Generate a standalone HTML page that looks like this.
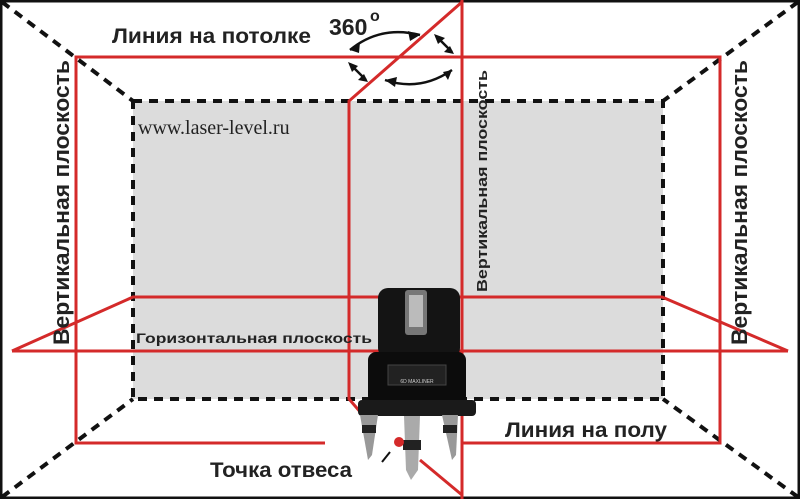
<!DOCTYPE html>
<html><head><meta charset="utf-8"><style>html,body{margin:0;padding:0;background:#fff}svg{display:block}</style></head><body>
<svg width="800" height="499" viewBox="0 0 800 499" xmlns="http://www.w3.org/2000/svg" font-family="Liberation Sans, sans-serif">
<rect x="133" y="101" width="530" height="298" fill="#dcdcdc"/>
<g stroke="#111" stroke-width="4" fill="none" stroke-dasharray="9,7">
<rect x="133" y="101" width="530" height="298"/>
<line x1="2" y1="2" x2="133" y2="101"/>
<line x1="798" y1="2" x2="663" y2="101"/>
<line x1="2" y1="497" x2="133" y2="399"/>
<line x1="798" y1="497" x2="663" y2="399"/>
</g>
<rect x="1" y="1" width="798" height="497" fill="none" stroke="#111" stroke-width="3"/>
<g stroke="#d42a2a" stroke-width="3" fill="none">
<polyline points="325,443 76,443 76,57 720,57 720,443 462,443"/>
<line x1="12" y1="351" x2="788" y2="351"/>
<polyline points="12,351 133,297 662,297 788,351"/>
<line x1="462" y1="0" x2="462" y2="499"/>
<polyline points="462,2 349,101 349,399 362,414"/>
<line x1="420" y1="460" x2="462" y2="495"/>
</g>
<g stroke="#111" stroke-width="2.5" fill="none">
<path d="M350,50 Q380,25 420,35"/>
<path d="M385,80 Q420,92 452,70"/>
<line x1="436" y1="36" x2="452" y2="52"/>
<line x1="350" y1="64" x2="366" y2="80"/>
</g>
<g fill="#111">
<polygon points="350,50 360,42 359,53"/><polygon points="420,35 408,31 410,41"/>
<polygon points="385,80 397,77 395,87"/><polygon points="452,70 443,72 448,80"/>
<polygon points="434,34 438,44 445,38"/><polygon points="454,54 444,52 450,46"/>
<polygon points="348,62 352,72 358,66"/><polygon points="368,82 358,80 364,74"/>
</g>
<g>
<rect x="378" y="288" width="82" height="70" rx="10" fill="#141414"/>
<rect x="405" y="290" width="22" height="45" rx="3" fill="#777"/>
<rect x="409" y="295" width="14" height="32" fill="#bbb"/>
<rect x="368" y="352" width="98" height="52" rx="8" fill="#0c0c0c"/>
<rect x="388" y="365" width="58" height="20" fill="#222" stroke="#444"/>
<text x="417" y="383" font-size="5" fill="#ccc" text-anchor="middle">6D MAXLINER</text>
<rect x="358" y="400" width="118" height="16" rx="4" fill="#1a1a1a"/>
<polygon points="360,415 378,415 372,455 368,460" fill="#999"/>
<rect x="362" y="425" width="14" height="8" fill="#222"/>
<polygon points="404,416 420,416 418,470 411,480 406,470" fill="#aaa"/>
<rect x="403" y="440" width="18" height="10" fill="#222"/>
<polygon points="442,415 458,415 456,455 452,460" fill="#999"/>
<rect x="443" y="425" width="14" height="8" fill="#222"/>
</g>
<circle cx="399" cy="442" r="5" fill="#d42a2a"/>
<line x1="382" y1="462" x2="390" y2="452" stroke="#111" stroke-width="2"/>
<g font-weight="bold" fill="#222">
<text x="112" y="43" font-size="21" textLength="199" lengthAdjust="spacingAndGlyphs">Линия на потолке</text>
<text x="329" y="35" font-size="23">360</text>
<text x="370" y="21" font-size="16">o</text>
<text x="136" y="343" font-size="14" textLength="236" lengthAdjust="spacingAndGlyphs">Горизонтальная плоскость</text>
<text x="505" y="437" font-size="21" textLength="162" lengthAdjust="spacingAndGlyphs">Линия на полу</text>
<text x="210" y="477" font-size="21" textLength="142" lengthAdjust="spacingAndGlyphs">Точка отвеса</text>
<text transform="translate(69,345) rotate(-90)" font-size="22" textLength="285" lengthAdjust="spacingAndGlyphs">Вертикальная плоскость</text>
<text transform="translate(747,345) rotate(-90)" font-size="22" textLength="285" lengthAdjust="spacingAndGlyphs">Вертикальная плоскость</text>
<text transform="translate(487,292) rotate(-90)" font-size="15" textLength="222" lengthAdjust="spacingAndGlyphs">Вертикальная плоскость</text>
</g>
<text x="138" y="134" font-size="20" font-family="Liberation Serif, serif" fill="#222">www.laser-level.ru</text>
</svg>
</body></html>
